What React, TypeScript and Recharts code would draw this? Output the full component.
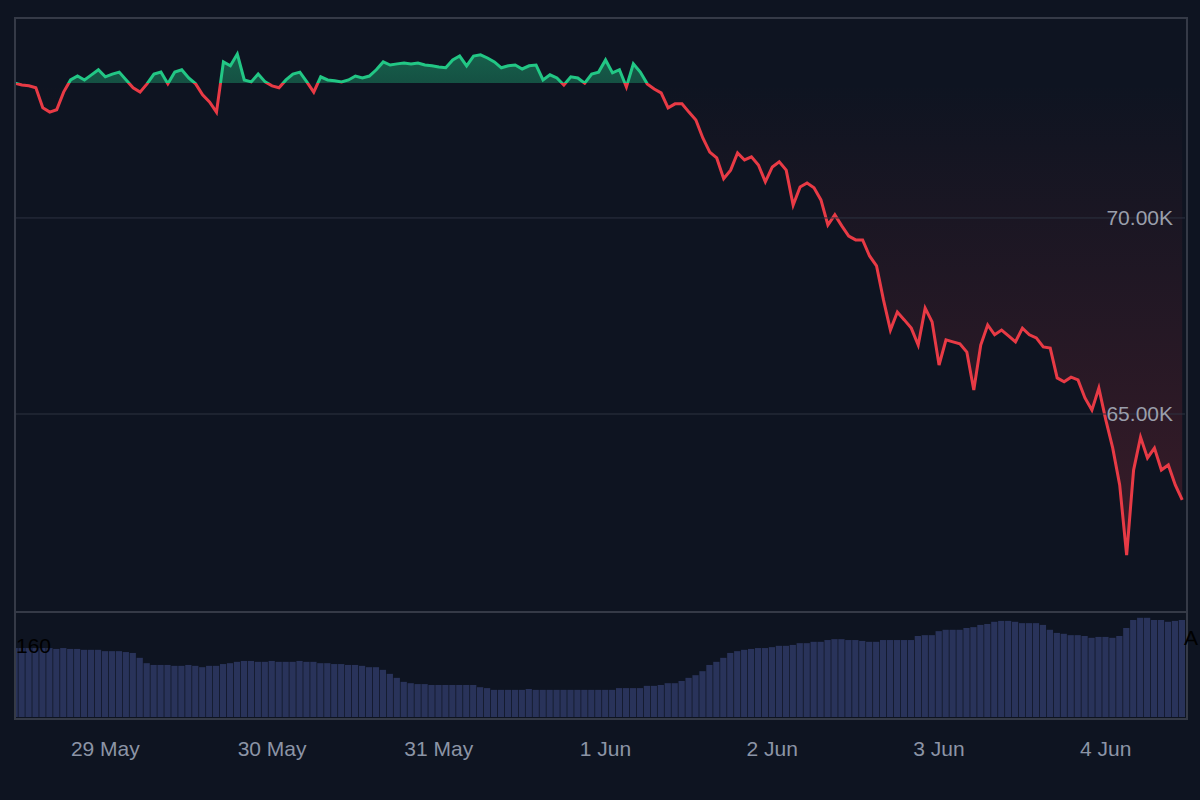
import React from 'react';
import { ComposedChart, Area, Bar, XAxis, YAxis, ReferenceLine } from 'recharts';

// hourly closes, 28 May 11:00 -> 4 Jun 11:00
const PRICES = [
    73440, 73390, 73370, 73320, 72810, 72700, 72760, 73210, 73520, 73620, 73520, 73650,
    73780, 73600, 73670, 73720, 73520, 73320, 73210, 73420, 73670, 73720, 73420, 73720,
    73780, 73570, 73420, 73140, 72960, 72700, 73980, 73880, 74180, 73520, 73470, 73670,
    73470, 73370, 73320, 73520, 73670, 73720, 73470, 73210, 73600, 73520, 73500, 73470,
    73520, 73620, 73570, 73620, 73780, 73980, 73900, 73930, 73950, 73930, 73950, 73900,
    73880, 73850, 73830, 74030, 74130, 73880, 74130, 74160, 74080, 73980, 73830, 73880,
    73900, 73800, 73880, 73900, 73520, 73650, 73570, 73390, 73600, 73570, 73440, 73670,
    73720, 74030, 73700, 73780, 73340, 73930, 73720, 73420, 73290, 73190, 72810, 72910,
    72910, 72700, 72500, 72040, 71680, 71530, 71000, 71220, 71660, 71480, 71560, 71350,
    70920, 71300, 71430, 71220, 70330, 70790, 70890, 70770, 70460, 69820, 70080, 69800,
    69540, 69440, 69440, 69030, 68780, 67910, 67140, 67600, 67400, 67190, 66760, 67700,
    67350, 66250, 66890, 66840, 66790, 66580, 65610, 66760, 67270, 67020, 67140, 66990,
    66840, 67190, 67020, 66940, 66710, 66680, 65920, 65820, 65940, 65870, 65410, 65100,
    65660, 64850, 64130, 63190, 61400, 63570, 64410, 63880, 64130, 63570, 63700, 63190,
    62810,
];

const VOLUMES = [
    155, 155, 155, 155, 155, 155, 153, 155, 153, 153, 151, 151,
    151, 148, 148, 148, 146, 144, 133, 121, 117, 117, 117, 115,
    115, 117, 115, 112, 115, 115, 119, 121, 124, 126, 126, 124,
    124, 126, 124, 124, 124, 126, 124, 124, 121, 121, 119, 119,
    117, 117, 115, 112, 112, 106, 97, 88, 79, 76, 74, 74,
    72, 72, 72, 72, 72, 72, 72, 67, 65, 61, 61, 61,
    61, 61, 63, 61, 61, 61, 61, 61, 61, 61, 61, 61,
    61, 61, 61, 65, 65, 65, 65, 70, 70, 72, 76, 76,
    81, 88, 94, 103, 117, 124, 133, 144, 148, 151, 153, 155,
    155, 157, 160, 160, 162, 166, 166, 169, 169, 173, 175, 175,
    173, 173, 171, 169, 169, 173, 173, 173, 173, 173, 182, 184,
    184, 193, 196, 196, 196, 200, 202, 207, 209, 214, 216, 216,
    214, 211, 211, 211, 207, 196, 189, 187, 184, 184, 182, 178,
    180, 180, 178, 182, 200, 218, 223, 223, 218, 218, 214, 216,
    218,
];

const DAY_LABELS = ['29 May', '30 May', '31 May', '1 Jun', '2 Jun', '3 Jun', '4 Jun'];
const DAY_TICKS = [24, 48, 72, 96, 120, 144, 168]; // hours since 28 May 00:00
const PRICE_TICKS = [65000, 70000];
const BASELINE = 73440;
const START_HOUR = 11;

const data = PRICES.map((price, i) => ({ t: START_HOUR + i, price, volume: VOLUMES[i] }));
const X_DOMAIN = [START_HOUR, START_HOUR + PRICES.length - 0.6];

const maxP = Math.max(...PRICES);
const minP = Math.min(...PRICES);
const split = (maxP - BASELINE) / (maxP - minP);

const GREEN = '#22c785';
const RED = '#e83a45';
const BG = '#0e1421';
const FONT = '"Liberation Sans", Arial, sans-serif';

const fmtK = (v: number) => `${(v / 1000).toFixed(2)}K`;

export default function App() {
    return (
        <div style={{ position: 'absolute', left: 0, top: 0, width: 1200, height: 800, background: BG, overflow: 'hidden', fontFamily: FONT }}>
            <div style={{ position: 'absolute', left: 15, top: 18 }}>
                <ComposedChart width={1170} height={594} data={data} margin={{ top: 0, right: 0, bottom: 0, left: 0 }}>
                    <defs>
                        <linearGradient id="baseFill" x1="0" y1="0" x2="0" y2="1">
                            <stop offset={0} stopColor={GREEN} stopOpacity={0.42} />
                            <stop offset={split} stopColor={GREEN} stopOpacity={0.34} />
                            <stop offset={split} stopColor={RED} stopOpacity={0.0} />
                            <stop offset={1} stopColor={RED} stopOpacity={0.2} />
                        </linearGradient>
                        <linearGradient id="baseStroke" x1="0" y1="0" x2="0" y2="1">
                            <stop offset={split} stopColor={GREEN} />
                            <stop offset={split} stopColor={RED} />
                        </linearGradient>
                    </defs>
                    <XAxis dataKey="t" type="number" domain={X_DOMAIN} allowDataOverflow hide />
                    <YAxis hide domain={[59950, 75100]} allowDataOverflow />
                    {PRICE_TICKS.map((p) => (
                        <ReferenceLine
                            key={p}
                            y={p}
                            stroke="#2c3240"
                            strokeWidth={1}
                            label={{ value: fmtK(p), position: 'insideRight', offset: 12, fill: '#9a9fab', fontSize: 21, fontFamily: FONT }}
                        />
                    ))}
                    <Area
                        type="linear"
                        dataKey="price"
                        baseValue={BASELINE}
                        stroke="url(#baseStroke)"
                        strokeWidth={3}
                        fill="url(#baseFill)"
                        fillOpacity={1}
                        dot={false}
                        activeDot={false}
                        isAnimationActive={false}
                    />
                </ComposedChart>
            </div>

            <div style={{ position: 'absolute', left: 15, top: 612 }}>
                <ComposedChart width={1170} height={188} data={data} margin={{ top: 0, right: 0, bottom: 0, left: 0 }}>
                    <XAxis
                        dataKey="t"
                        type="number"
                        domain={X_DOMAIN}
                        allowDataOverflow
                        ticks={DAY_TICKS}
                        height={83}
                        axisLine={false}
                        tickLine={false}
                        tickSize={0}
                        tickMargin={24}
                        tick={{ fill: '#8c94a6', fontSize: 21, fontFamily: FONT }}
                        tickFormatter={(v) => DAY_LABELS[v / 24 - 1]}
                    />
                    <YAxis hide domain={[0, 236]} allowDataOverflow />
                    <Bar dataKey="volume" fill="#29335a" barSize={7} isAnimationActive={false} />
                </ComposedChart>
            </div>

            {/* pane frame and separator */}
            <div style={{ position: 'absolute', left: 14, top: 17, width: 1170, height: 699, border: '2px solid #353a47', pointerEvents: 'none' }} />
            <div style={{ position: 'absolute', left: 14, top: 611, width: 1172, height: 2, background: '#353a47' }} />

            <div style={{ position: 'absolute', left: 16, top: 633, fontSize: 21, color: '#000', lineHeight: '26px' }}>160</div>
            <div style={{ position: 'absolute', left: 1184, top: 625, fontSize: 21, color: '#000', lineHeight: '26px' }}>A</div>
        </div>
    );
}
